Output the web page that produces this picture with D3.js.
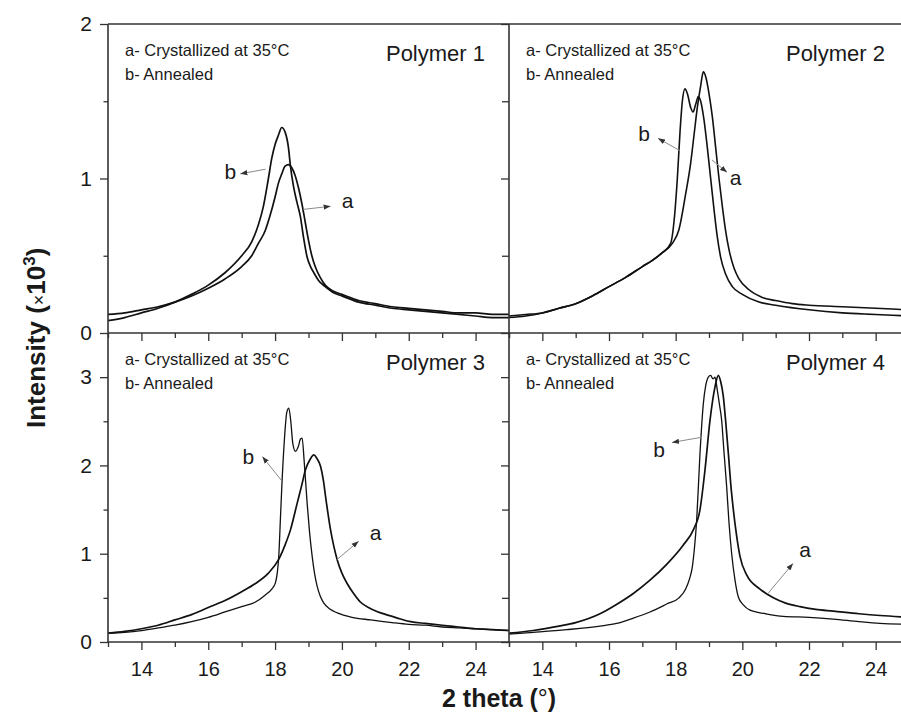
<!DOCTYPE html>
<html><head><meta charset="utf-8">
<script src="https://cdn.jsdelivr.net/npm/d3@7"></script>
<style>body{margin:0;background:#fff}svg{display:block}text{font-family:"Liberation Sans",Arial,sans-serif;fill:#1a1a1a}</style>
</head><body><svg id="c" width="901" height="715"></svg>
<script>
// ---------- data ----------
const thetaDomain = [13, 25];
const xMajorTicks = [14, 16, 18, 20, 22, 24];
const xMinorTicks = [13, 15, 17, 19, 21, 23, 25];
const yDomainTop = [0, 2];
const yDomainBottom = [0, 3.5];
const yTicksTop = [0, 1, 2];
const yMinorTop = [0.5, 1.5];
const yTicksBottom = [0, 1, 2, 3];
const yMinorBottom = [0.5, 1.5, 2.5];
const panelNames = ["Polymer 1", "Polymer 2", "Polymer 3", "Polymer 4"];
const legendA = "a- Crystallized at 35°C";
const legendB = "b- Annealed";

// [2 theta (deg), intensity (x10^3)]
const polymer1_a = [[13,0.12],[13.5,0.13],[14,0.15],[14.5,0.17],[15,0.2],[15.5,0.24],[16,0.29],[16.5,0.35],[17,0.43],[17.3,0.5],[17.5,0.58],[17.7,0.66],[17.85,0.76],[18,0.88],[18.1,0.97],[18.2,1.03],[18.3,1.08],[18.4,1.09],[18.5,1.07],[18.6,1.02],[18.7,0.94],[18.8,0.84],[18.9,0.72],[19,0.6],[19.1,0.5],[19.2,0.43],[19.35,0.36],[19.5,0.31],[19.75,0.27],[20,0.25],[20.5,0.21],[21,0.19],[21.5,0.17],[22,0.16],[22.5,0.15],[23,0.14],[23.5,0.13],[24,0.13],[24.5,0.12],[25,0.12]];
const polymer1_b = [[13,0.08],[13.5,0.1],[14,0.13],[14.5,0.16],[15,0.2],[15.5,0.25],[16,0.31],[16.5,0.39],[17,0.5],[17.3,0.59],[17.5,0.7],[17.65,0.82],[17.8,1.0],[17.9,1.13],[18,1.22],[18.1,1.28],[18.2,1.33],[18.3,1.3],[18.4,1.2],[18.46,1.08],[18.55,0.95],[18.65,0.85],[18.76,0.75],[18.85,0.62],[18.96,0.49],[19.06,0.43],[19.16,0.39],[19.3,0.34],[19.5,0.3],[19.75,0.26],[20,0.24],[20.5,0.2],[21,0.18],[21.5,0.16],[22,0.15],[22.5,0.14],[23,0.13],[23.5,0.12],[24,0.11],[24.5,0.1],[25,0.1]];
const polymer2_a = [[13,0.11],[13.5,0.12],[14,0.13],[14.5,0.16],[15,0.19],[15.5,0.24],[16,0.3],[16.5,0.36],[17,0.43],[17.3,0.47],[17.6,0.52],[17.9,0.58],[18.1,0.67],[18.3,0.9],[18.45,1.1],[18.55,1.28],[18.65,1.46],[18.75,1.6],[18.83,1.69],[18.9,1.66],[19,1.55],[19.1,1.4],[19.2,1.2],[19.3,1.0],[19.4,0.82],[19.5,0.66],[19.6,0.54],[19.75,0.42],[19.9,0.35],[20.2,0.28],[20.6,0.23],[21,0.21],[21.5,0.19],[22,0.18],[23,0.17],[24,0.16],[25,0.15]];
const polymer2_b = [[13,0.1],[13.5,0.11],[14,0.13],[14.5,0.16],[15,0.19],[15.5,0.24],[16,0.3],[16.5,0.36],[17,0.43],[17.3,0.47],[17.6,0.52],[17.85,0.58],[17.95,0.72],[18.05,1.0],[18.13,1.3],[18.2,1.5],[18.28,1.58],[18.35,1.55],[18.45,1.46],[18.52,1.43],[18.6,1.48],[18.68,1.53],[18.75,1.5],[18.85,1.38],[18.95,1.2],[19.05,1.0],[19.15,0.8],[19.25,0.62],[19.35,0.49],[19.5,0.38],[19.7,0.3],[20,0.25],[20.5,0.2],[21,0.18],[22,0.15],[23,0.13],[24,0.12],[25,0.11]];
const polymer3_a = [[13,0.1],[13.5,0.12],[14,0.15],[14.5,0.19],[15,0.25],[15.5,0.31],[16,0.39],[16.5,0.47],[17,0.57],[17.4,0.66],[17.8,0.78],[18.1,0.93],[18.3,1.1],[18.46,1.27],[18.66,1.57],[18.8,1.78],[18.91,1.95],[19.05,2.07],[19.16,2.12],[19.25,2.08],[19.36,1.99],[19.45,1.82],[19.51,1.65],[19.66,1.27],[19.76,1.08],[19.86,0.93],[20.0,0.78],[20.16,0.66],[20.35,0.55],[20.56,0.45],[20.85,0.38],[21.16,0.33],[21.5,0.29],[21.76,0.26],[22.06,0.23],[22.5,0.21],[23,0.19],[23.5,0.17],[24,0.15],[24.5,0.14],[25,0.13]];
const polymer3_b = [[13,0.1],[13.5,0.11],[14,0.13],[14.5,0.16],[15,0.19],[15.5,0.23],[16,0.28],[16.5,0.34],[17,0.4],[17.4,0.45],[17.7,0.53],[17.9,0.6],[18.01,0.67],[18.11,0.97],[18.16,1.4],[18.21,1.83],[18.28,2.3],[18.35,2.6],[18.41,2.65],[18.47,2.5],[18.53,2.25],[18.61,2.16],[18.7,2.22],[18.76,2.3],[18.81,2.31],[18.87,2.05],[18.96,1.57],[19.03,1.25],[19.11,0.97],[19.18,0.78],[19.26,0.63],[19.35,0.52],[19.46,0.44],[19.65,0.37],[19.86,0.33],[20.3,0.28],[20.86,0.25],[21.5,0.22],[22,0.2],[22.5,0.19],[23,0.17],[23.5,0.16],[24,0.15],[24.5,0.14],[25,0.13]];
const polymer4_a = [[13,0.1],[13.73,0.13],[14.5,0.18],[15,0.22],[15.73,0.32],[16.2,0.42],[16.73,0.55],[17.23,0.7],[17.73,0.88],[18.23,1.1],[18.53,1.27],[18.73,1.5],[18.88,1.95],[19.03,2.51],[19.18,2.89],[19.28,3.02],[19.35,2.95],[19.43,2.78],[19.5,2.5],[19.58,2.14],[19.65,1.8],[19.73,1.5],[19.83,1.2],[19.93,0.97],[20.13,0.76],[20.53,0.6],[20.93,0.5],[21.3,0.44],[21.73,0.4],[22.2,0.37],[22.73,0.35],[23.5,0.32],[24.13,0.3],[25,0.28]];
const polymer4_b = [[13,0.09],[13.73,0.11],[14.73,0.14],[15.73,0.18],[16.23,0.21],[16.73,0.27],[17.23,0.34],[17.73,0.43],[18.1,0.5],[18.3,0.6],[18.42,0.72],[18.5,0.85],[18.56,1.05],[18.63,1.38],[18.68,1.75],[18.73,2.14],[18.78,2.45],[18.83,2.7],[18.9,2.9],[18.98,3.0],[19.05,3.02],[19.12,2.98],[19.18,3.0],[19.25,2.85],[19.31,2.7],[19.38,2.51],[19.45,2.15],[19.53,1.76],[19.6,1.35],[19.68,1.0],[19.78,0.7],[19.88,0.51],[20.03,0.42],[20.23,0.36],[20.7,0.32],[21.23,0.29],[22,0.28],[22.73,0.26],[23.5,0.23],[24.13,0.21],[25,0.2]];

// annotation arrows (data coordinates): from, to, label position
const arrows = [
  {p:0, lab:"b", from:[17.71,1.06], to:[16.96,1.03], at:[16.66,1.0]},
  {p:0, lab:"a", from:[18.84,0.80], to:[19.66,0.82], at:[20.17,0.81]},
  {p:1, lab:"b", from:[18.13,1.18], to:[17.47,1.26], at:[17.05,1.24]},
  {p:1, lab:"a", from:[19.09,1.12], to:[19.54,1.04], at:[19.8,0.96]},
  {p:2, lab:"b", from:[18.19,1.83], to:[17.62,2.1], at:[17.2,2.02]},
  {p:2, lab:"a", from:[19.84,0.93], to:[20.5,1.14], at:[21.01,1.16]},
  {p:3, lab:"b", from:[18.79,2.32], to:[17.89,2.26], at:[17.5,2.1]},
  {p:3, lab:"a", from:[20.77,0.55], to:[21.52,0.89], at:[21.88,0.96]}
];

// ---------- layout ----------
const L = 108, MIDX = 509, R = 909, TOP = 24, MIDY = 333, BOT = 642;
const svg = d3.select("#c");
const defs = svg.append("defs");
defs.append("marker").attr("id","arr").attr("viewBox","0 -3 7 6")
  .attr("refX",7).attr("refY",0).attr("markerWidth",7).attr("markerHeight",6)
  .attr("markerUnits","userSpaceOnUse").attr("orient","auto")
  .append("path").attr("d","M0,-2.6L7,0L0,2.6Z").attr("fill","#333");

const panels = [
  {x0:L, x1:MIDX, y0:TOP, y1:MIDY, yd:yDomainTop, yt:yTicksTop, ym:yMinorTop, series:[polymer1_a, polymer1_b], widths:[1.7,1.7], left:true, bottom:false},
  {x0:MIDX, x1:R, y0:TOP, y1:MIDY, yd:yDomainTop, yt:yTicksTop, ym:yMinorTop, series:[polymer2_a, polymer2_b], widths:[1.6,1.6], left:false, bottom:false},
  {x0:L, x1:MIDX, y0:MIDY, y1:BOT, yd:yDomainBottom, yt:yTicksBottom, ym:yMinorBottom, series:[polymer3_a, polymer3_b], widths:[1.7,1.3], left:true, bottom:true},
  {x0:MIDX, x1:R, y0:MIDY, y1:BOT, yd:yDomainBottom, yt:yTicksBottom, ym:yMinorBottom, series:[polymer4_a, polymer4_b], widths:[1.7,1.3], left:false, bottom:true}
];

panels.forEach((p, i) => {
  p.x = d3.scaleLinear().domain(thetaDomain).range([p.x0, p.x1]);
  p.y = d3.scaleLinear().domain(p.yd).range([p.y1, p.y0]);
  defs.append("clipPath").attr("id","clip"+i).append("rect")
    .attr("x",p.x0).attr("y",p.y0).attr("width",p.x1-p.x0).attr("height",p.y1-p.y0);

  const line = d3.line().x(d => p.x(d[0])).y(d => p.y(d[1])).curve(d3.curveMonotoneX);
  const g = svg.append("g").attr("clip-path",`url(#clip${i})`);
  p.series.forEach((s, k) => {
    g.append("path").datum(s).attr("d", line).attr("fill","none")
      .attr("stroke","#111").attr("stroke-width", p.widths[k]).attr("stroke-linejoin","round");
  });

  // x axis
  const gx = svg.append("g").attr("transform",`translate(0,${p.y1})`);
  gx.call(d3.axisBottom(p.x).tickValues(xMajorTicks).tickSize(8).tickPadding(12)
      .tickFormat(p.bottom ? d3.format("d") : () => ""));
  gx.call(g => g.select(".domain").remove());
  gx.selectAll("text").style("font-size","20px").attr("fill","#1a1a1a").style("font-family","'Liberation Sans',Arial,sans-serif");
  const gxm = svg.append("g").attr("transform",`translate(0,${p.y1})`);
  gxm.call(d3.axisBottom(p.x).tickValues(xMinorTicks).tickSize(5).tickFormat(() => ""));
  gxm.call(g => g.select(".domain").remove());

  // y axis
  const gy = svg.append("g").attr("transform",`translate(${p.x0},0)`);
  gy.call(d3.axisLeft(p.y).tickValues(p.yt).tickSize(8).tickPadding(8)
      .tickFormat(p.left ? d3.format("d") : () => ""));
  gy.call(g => g.select(".domain").remove());
  gy.selectAll("text").style("font-size","21px").attr("fill","#1a1a1a").style("font-family","'Liberation Sans',Arial,sans-serif");
  const gym = svg.append("g").attr("transform",`translate(${p.x0},0)`);
  gym.call(d3.axisLeft(p.y).tickValues(p.ym).tickSize(p.left ? 4.5 : 7).tickFormat(() => ""));
  gym.call(g => g.select(".domain").remove());

  svg.selectAll(".tick line").attr("stroke","#333").attr("stroke-width",1.3);

  // legend + title
  const lx = p.x0 + 17;
  svg.append("text").attr("x", lx).attr("y", p.y0 + 32).style("font-size","16.5px").text(legendA);
  svg.append("text").attr("x", lx).attr("y", p.y0 + 56).style("font-size","16.5px").text(legendB);
  svg.append("text").attr("x", p.x1 - 24).attr("y", p.y0 + 37)
    .attr("text-anchor","end").style("font-size","22px").text(panelNames[i]);
});

// annotations
arrows.forEach(a => {
  const p = panels[a.p];
  svg.append("line").attr("x1",p.x(a.from[0])).attr("y1",p.y(a.from[1]))
    .attr("x2",p.x(a.to[0])).attr("y2",p.y(a.to[1]))
    .attr("stroke","#8a8a8a").attr("stroke-width",1).attr("marker-end","url(#arr)");
  svg.append("text").attr("x",p.x(a.at[0])).attr("y",p.y(a.at[1]))
    .attr("text-anchor","middle").style("font-size","21px").text(a.lab);
});

// frame
const frame = svg.append("g").attr("stroke","#333").attr("stroke-width",1.6).attr("fill","none");
[[L,TOP,R,TOP],[L,MIDY,R,MIDY],[L,BOT,R,BOT],[L,TOP,L,BOT],[MIDX,TOP,MIDX,BOT],[R,TOP,R,BOT]]
  .forEach(c => frame.append("line").attr("x1",c[0]).attr("y1",c[1]).attr("x2",c[2]).attr("y2",c[3]));

// axis titles
const yt = svg.append("text").attr("transform","translate(45,428) rotate(-90)")
  .style("font-size","26px").style("font-weight","bold");
yt.append("tspan").text("Intensity (");
yt.append("tspan").style("font-size","18px").style("font-weight","normal").text("×");
yt.append("tspan").text("10");
yt.append("tspan").attr("dy",-10).style("font-size","17px").text("3");
yt.append("tspan").attr("dy",10).text(")");

const xt = svg.append("text").attr("x",442).attr("y",707).style("font-size","25px").style("font-weight","bold");
xt.append("tspan").text("2 theta (");
xt.append("tspan").style("font-weight","normal").text("°");
xt.append("tspan").text(")");
</script></body></html>
